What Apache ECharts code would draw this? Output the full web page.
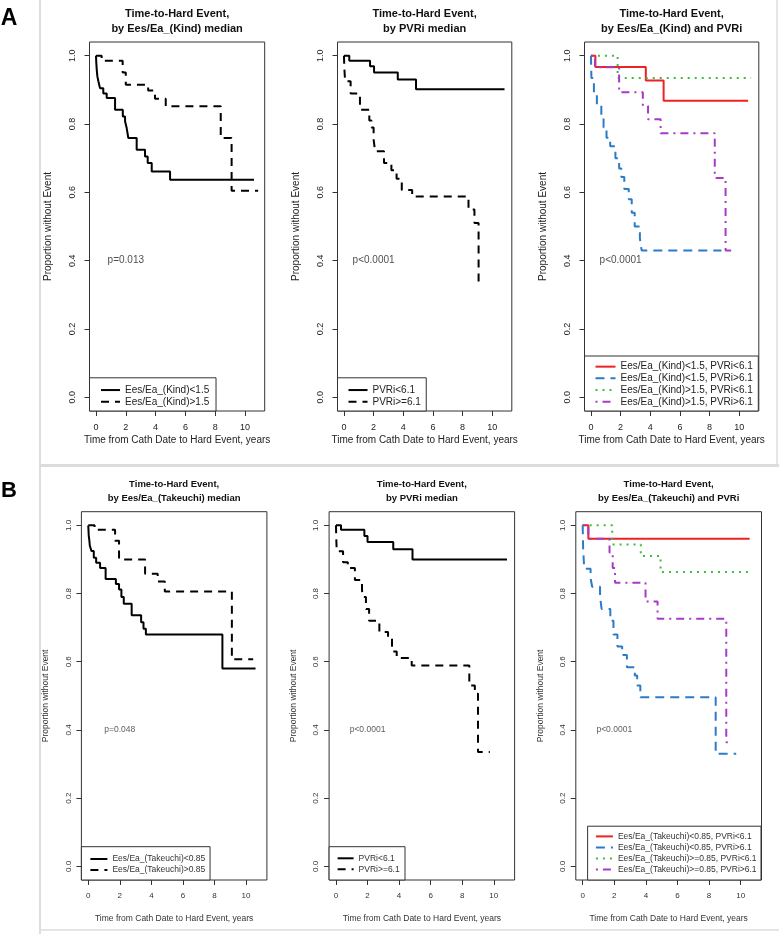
<!DOCTYPE html>
<html><head><meta charset="utf-8">
<script src="https://cdn.jsdelivr.net/npm/echarts@6/dist/echarts.min.js"></script>
<style>html,body{margin:0;padding:0;background:#fff}#c{width:779px;height:934px}</style>
</head><body><div id="c"></div>
<script>
// ---------- shared ticks ----------
const xTicks = [0, 2, 4, 6, 8, 10];
const yTicks = [0, 0.2, 0.4, 0.6, 0.8, 1.0];
const xTitle = 'Time from Cath Date to Hard Event, years';
const yTitle = 'Proportion without Event';

// ---------- Panel A1 ----------
const a1Title = ['Time-to-Hard Event,', 'by Ees/Ea_(Kind) median'];
const a1Names = ['Ees/Ea_(Kind)<1.5', 'Ees/Ea_(Kind)>1.5'];
const a1LowT = [0, 0.02, 0.05, 0.09, 0.16, 0.27, 0.49, 0.72, 1.28, 1.8, 1.95, 2.06, 2.17, 2.73, 3.29, 3.47, 3.74, 4.97];
const a1LowS = [1.0, 0.98, 0.96, 0.94, 0.925, 0.905, 0.889, 0.876, 0.842, 0.822, 0.808, 0.788, 0.759, 0.725, 0.705, 0.686, 0.661, 0.637];
const a1LowEnd = 10.6;
const a1HighT = [0, 0.38, 1.79, 2.0, 3.5, 3.96, 4.68, 8.37, 9.1];
const a1HighS = [1.0, 0.985, 0.951, 0.915, 0.898, 0.874, 0.852, 0.759, 0.605];
const a1HighEnd = 10.88;
const a1P = 'p=0.013';

// ---------- Panel A2 ----------
const a2Title = ['Time-to-Hard Event,', 'by PVRi median'];
const a2Names = ['PVRi<6.1', 'PVRi>=6.1'];
const a2LowT = [0, 0.36, 1.76, 2.03, 3.63, 4.86];
const a2LowS = [1.0, 0.985, 0.969, 0.951, 0.93, 0.902];
const a2LowEnd = 10.83;
const a2HighT = [0, 0.03, 0.08, 0.45, 1.08, 1.71, 1.85, 2.0, 2.1, 2.7, 3.2, 3.55, 3.9, 4.6, 8.4, 8.8, 9.08];
const a2HighS = [1.0, 0.96, 0.925, 0.889, 0.842, 0.81, 0.79, 0.755, 0.72, 0.686, 0.665, 0.64, 0.607, 0.588, 0.55, 0.51, 0.338];
const a2HighEnd = 9.37;
const a2P = 'p<0.0001';

// ---------- Panel A3 ----------
const a3Title = ['Time-to-Hard Event,', 'by Ees/Ea_(Kind) and PVRi'];
const a3Names = ['Ees/Ea_(Kind)<1.5, PVRi<6.1', 'Ees/Ea_(Kind)<1.5, PVRi>6.1', 'Ees/Ea_(Kind)>1.5, PVRi<6.1', 'Ees/Ea_(Kind)>1.5, PVRi>6.1'];
const a3RedT = [0, 0.3, 3.7, 4.9];
const a3RedS = [1.0, 0.967, 0.927, 0.868];
const a3RedEnd = 10.6;
const a3BlueT = [0, 0.03, 0.2, 0.4, 0.7, 0.85, 1.05, 1.3, 1.65, 1.9, 2.05, 2.25, 2.55, 2.75, 2.95, 3.3, 3.42];
const a3BlueS = [1.0, 0.935, 0.89, 0.855, 0.82, 0.79, 0.76, 0.735, 0.70, 0.67, 0.645, 0.61, 0.58, 0.54, 0.50, 0.465, 0.43];
const a3BlueEnd = 8.8;
const a3GreenT = [0, 1.8];
const a3GreenS = [1.0, 0.935];
const a3GreenEnd = 10.8;
const a3PurpleT = [0, 0.27, 1.9, 3.5, 3.85, 4.7, 8.35, 9.08];
const a3PurpleS = [1.0, 0.966, 0.893, 0.853, 0.814, 0.773, 0.642, 0.43];
const a3PurpleEnd = 9.6;
const a3P = 'p<0.0001';

// ---------- Panel B1 ----------
const b1Title = ['Time-to-Hard Event,', 'by Ees/Ea_(Takeuchi) median'];
const b1Names = ['Ees/Ea_(Takeuchi)<0.85', 'Ees/Ea_(Takeuchi)>0.85'];
const b1LowT = [0, 0.03, 0.07, 0.1, 0.2, 0.35, 0.5, 0.75, 1.1, 1.75, 1.95, 2.1, 2.25, 2.75, 3.35, 3.5, 3.65, 8.5];
const b1LowS = [1.0, 0.97, 0.955, 0.94, 0.925, 0.905, 0.89, 0.875, 0.843, 0.828, 0.812, 0.79, 0.77, 0.736, 0.716, 0.697, 0.68, 0.58];
const b1LowEnd = 10.6;
const b1HighT = [0, 0.4, 1.7, 1.95, 3.6, 4.4, 4.85, 9.1];
const b1HighS = [1.0, 0.987, 0.955, 0.9, 0.858, 0.835, 0.806, 0.607];
const b1HighEnd = 10.45;
const b1P = 'p=0.048';

// ---------- Panel B2 ----------
const b2Title = ['Time-to-Hard Event,', 'by PVRi median'];
const b2Names = ['PVRi<6.1', 'PVRi>=6.1'];
const b2LowT = [0, 0.32, 1.8, 2.0, 3.63, 4.85];
const b2LowS = [1.0, 0.987, 0.969, 0.951, 0.93, 0.9];
const b2LowEnd = 10.84;
const b2HighT = [0, 0.02, 0.05, 0.45, 0.75, 1.2, 1.65, 1.7, 1.9, 2.1, 2.75, 3.3, 3.55, 3.85, 4.8, 8.45, 8.8, 9.0];
const b2HighS = [1.0, 0.96, 0.924, 0.892, 0.875, 0.84, 0.81, 0.79, 0.755, 0.72, 0.687, 0.672, 0.63, 0.611, 0.589, 0.53, 0.506, 0.335];
const b2HighEnd = 9.75;
const b2P = 'p<0.0001';

// ---------- Panel B3 ----------
const b3Title = ['Time-to-Hard Event,', 'by Ees/Ea_(Takeuchi) and PVRi'];
const b3Names = ['Ees/Ea_(Takeuchi)<0.85, PVRi<6.1', 'Ees/Ea_(Takeuchi)<0.85, PVRi>6.1', 'Ees/Ea_(Takeuchi)>=0.85, PVRi<6.1', 'Ees/Ea_(Takeuchi)>=0.85, PVRi>6.1'];
const b3RedT = [0, 0.36];
const b3RedS = [1.0, 0.961];
const b3RedEnd = 10.57;
const b3BlueT = [0, 0.03, 0.1, 0.5, 0.6, 1.1, 1.2, 1.75, 1.95, 2.2, 2.5, 2.8, 3.3, 3.45, 3.65, 8.42];
const b3BlueS = [1.0, 0.93, 0.873, 0.845, 0.82, 0.79, 0.755, 0.72, 0.68, 0.645, 0.62, 0.584, 0.56, 0.53, 0.496, 0.33];
const b3BlueEnd = 9.72;
const b3GreenT = [0, 1.87, 3.68, 4.93];
const b3GreenS = [1.0, 0.944, 0.91, 0.863];
const b3GreenEnd = 10.78;
const b3PurpleT = [0, 0.36, 1.7, 1.9, 2.05, 3.98, 4.74, 9.09];
const b3PurpleS = [1.0, 0.961, 0.92, 0.875, 0.832, 0.777, 0.726, 0.364];
const b3PurpleEnd = 9.2;
const b3P = 'p<0.0001';

// ---------- styling / layout ----------
const FONT = "'Liberation Sans', Arial, Helvetica, sans-serif";
const BLACK = '#000';
const RED = '#ee2222', BLUE = '#2c7bc6', GREEN = '#3fbb3f', PURPLE = '#a63cc6';
const DASH = [8, 6], BDASH = [9, 6], DOT = [2, 5], DOTDASH = [2, 5, 8, 5];
const XMIN = -0.435, XMAX = 11.32, YMIN = -0.04, YMAX = 1.04;

const rowStyle = {
  A: {tick: 9, yMargin: 12, xMargin: 12, name: 10, xGap: 24, yGap: 36, leg: 10, legLH: 11.7, title: 11, titleY: 21.5, titleLH: 15, p: 10, text: '#222'},
  B: {tick: 8, yMargin: 9, xMargin: 12, name: 8.5, xGap: 34, yGap: 31, leg: 8.5, legLH: 11, title: 9.5, titleY: 491.3, titleLH: 14, p: 8.5, text: '#333'}
};

function km(T, S, end) {
  const d = T.map((t, i) => [t, S[i]]);
  d.push([end, S[S.length - 1]]);
  return d;
}

const panels = [
  {row: 'A', grid: {left: 89.5, top: 42, width: 175.2, height: 369}, title: a1Title, p: a1P, names: a1Names,
   legend: {left: 89.5, pad: [6.4, 6.8, 3.4, 10.5], iw: 19},
   curves: [
     {name: a1Names[0], d: km(a1LowT, a1LowS, a1LowEnd), color: BLACK, type: 'solid'},
     {name: a1Names[1], d: km(a1HighT, a1HighS, a1HighEnd), color: BLACK, type: DASH}]},
  {row: 'A', grid: {left: 337.5, top: 42, width: 174.3, height: 369}, title: a2Title, p: a2P, names: a2Names,
   legend: {left: 337.5, pad: [6.4, 5.4, 3.4, 10], iw: 19},
   curves: [
     {name: a2Names[0], d: km(a2LowT, a2LowS, a2LowEnd), color: BLACK, type: 'solid'},
     {name: a2Names[1], d: km(a2HighT, a2HighS, a2HighEnd), color: BLACK, type: DASH}]},
  {row: 'A', grid: {left: 584.5, top: 42, width: 174.3, height: 369}, title: a3Title, p: a3P, names: a3Names,
   legend: {left: 584.5, pad: [4.8, 5.5, 3.4, 10], iw: 20},
   curves: [
     {name: a3Names[0], d: km(a3RedT, a3RedS, a3RedEnd), color: RED, type: 'solid'},
     {name: a3Names[1], d: km(a3BlueT, a3BlueS, a3BlueEnd), color: BLUE, type: BDASH},
     {name: a3Names[2], d: km(a3GreenT, a3GreenS, a3GreenEnd), color: GREEN, type: DOT},
     {name: a3Names[3], d: km(a3PurpleT, a3PurpleS, a3PurpleEnd), color: PURPLE, type: DOTDASH}]},
  {row: 'B', grid: {left: 81.4, top: 511.7, width: 185.5, height: 368.3}, title: b1Title, p: b1P, names: b1Names,
   legend: {left: 81.4, pad: [6.8, 4.8, 4.5, 8], iw: 17},
   curves: [
     {name: b1Names[0], d: km(b1LowT, b1LowS, b1LowEnd), color: BLACK, type: 'solid'},
     {name: b1Names[1], d: km(b1HighT, b1HighS, b1HighEnd), color: BLACK, type: DASH}]},
  {row: 'B', grid: {left: 329.1, top: 511.7, width: 185.5, height: 368.3}, title: b2Title, p: b2P, names: b2Names,
   legend: {left: 329.1, pad: [6.1, 5.3, 5.2, 7.5], iw: 16},
   curves: [
     {name: b2Names[0] + ' ', d: km(b2LowT, b2LowS, b2LowEnd), color: BLACK, type: 'solid'},
     {name: b2Names[1] + ' ', d: km(b2HighT, b2HighS, b2HighEnd), color: BLACK, type: DASH}]},
  {row: 'B', grid: {left: 575.8, top: 511.7, width: 185.7, height: 368.3}, title: b3Title, p: b3P, names: b3Names,
   legend: {right: 18, pad: [4.7, 4.4, 5.1, 7.3], iw: 17},
   curves: [
     {name: b3Names[0], d: km(b3RedT, b3RedS, b3RedEnd), color: RED, type: 'solid'},
     {name: b3Names[1], d: km(b3BlueT, b3BlueS, b3BlueEnd), color: BLUE, type: BDASH},
     {name: b3Names[2], d: km(b3GreenT, b3GreenS, b3GreenEnd), color: GREEN, type: DOT},
     {name: b3Names[3], d: km(b3PurpleT, b3PurpleS, b3PurpleEnd), color: PURPLE, type: DOTDASH}]}
];

const grid = [], xAxis = [], yAxis = [], series = [], legend = [], graphic = [];

panels.forEach((p, i) => {
  const rs = rowStyle[p.row];
  grid.push(Object.assign({show: true, borderColor: '#333', borderWidth: 1, backgroundColor: 'transparent'}, p.grid));
  xAxis.push({
    gridIndex: i, type: 'value', min: XMIN, max: XMAX,
    axisLine: {show: false, onZero: false}, splitLine: {show: false},
    axisTick: {show: true, customValues: xTicks, length: 5, lineStyle: {color: '#333'}},
    axisLabel: {customValues: xTicks, fontSize: rs.tick, color: rs.text, fontFamily: FONT, margin: rs.xMargin},
    name: xTitle, nameLocation: 'middle', nameGap: rs.xGap,
    nameTextStyle: {fontSize: rs.name, color: rs.text, fontFamily: FONT}
  });
  yAxis.push({
    gridIndex: i, type: 'value', min: YMIN, max: YMAX,
    axisLine: {show: false, onZero: false}, splitLine: {show: false},
    axisTick: {show: true, customValues: yTicks, length: 5, lineStyle: {color: '#333'}},
    axisLabel: {customValues: yTicks, rotate: 90, formatter: v => v.toFixed(1), fontSize: rs.tick, color: rs.text, fontFamily: FONT, margin: rs.yMargin},
    name: yTitle, nameLocation: 'middle', nameRotate: 90, nameGap: rs.yGap,
    nameTextStyle: {fontSize: rs.name, color: rs.text, fontFamily: FONT}
  });
  const legNames = [];
  p.curves.forEach(c => {
    legNames.push(c.name);
    series.push({
      type: 'line', name: c.name, xAxisIndex: i, yAxisIndex: i, data: c.d, step: 'end',
      symbol: 'none', showSymbol: false, silent: true, animation: false, z: 3,
      lineStyle: {color: c.color, width: 2, type: c.type}, itemStyle: {color: c.color}
    });
  });
  series.push({
    type: 'scatter', xAxisIndex: i, yAxisIndex: i, data: [[2, 0.4]], symbolSize: 1, silent: true, animation: false,
    itemStyle: {color: 'rgba(0,0,0,0)'},
    label: {show: true, position: 'inside', formatter: p.p, fontSize: rs.p, color: rs.text, fontFamily: FONT}
  });
  const leg = {
    orient: 'vertical', data: legNames, bottom: p.row === 'A' ? 523 : 54,
    itemWidth: p.legend.iw, itemHeight: 10, itemGap: 0, padding: p.legend.pad,
    backgroundColor: '#fff', borderColor: '#333', borderWidth: 1, borderRadius: 0,
    selectedMode: false, z: 10,
    itemStyle: {opacity: 0},
    textStyle: {fontSize: rs.leg, color: rs.text, fontFamily: FONT, lineHeight: rs.legLH},
    formatter: n => n.trim()
  };
  if (p.legend.left !== undefined) leg.left = p.legend.left; else leg.right = p.legend.right;
  legend.push(leg);
  graphic.push({
    type: 'text', x: p.grid.left + p.grid.width / 2, y: rs.titleY,
    style: {text: p.title.join('\n'), fontSize: rs.title, fontWeight: 'bold', fontFamily: FONT, fill: '#111',
            lineHeight: rs.titleLH, align: 'center', verticalAlign: 'middle', textAlign: 'center', textVerticalAlign: 'middle'}
  });
});

// panel letters & frame
graphic.push(
  {type: 'text', x: 9, y: 19, style: {text: 'A', fontSize: 23, fontWeight: 'bold', fontFamily: FONT, fill: '#000', align: 'center', verticalAlign: 'middle'}},
  {type: 'text', x: 9, y: 491, style: {text: 'B', fontSize: 22, fontWeight: 'bold', fontFamily: FONT, fill: '#000', align: 'center', verticalAlign: 'middle'}},
  {type: 'line', shape: {x1: 40, y1: 0, x2: 40, y2: 934}, style: {stroke: '#d2d2d2', lineWidth: 1.5}},
  {type: 'line', shape: {x1: 40, y1: 465.5, x2: 779, y2: 465.5}, style: {stroke: '#dcdcdc', lineWidth: 3}},
  {type: 'line', shape: {x1: 777, y1: 0, x2: 777, y2: 465}, style: {stroke: '#dcdcdc', lineWidth: 1.5}},
  {type: 'line', shape: {x1: 40, y1: 930, x2: 779, y2: 930}, style: {stroke: '#dcdcdc', lineWidth: 1.5}}
);

const chart = echarts.init(document.getElementById('c'), null, {renderer: 'canvas'});
chart.setOption({animation: false, backgroundColor: '#fff', grid, xAxis, yAxis, series, legend, graphic});
</script></body></html>
